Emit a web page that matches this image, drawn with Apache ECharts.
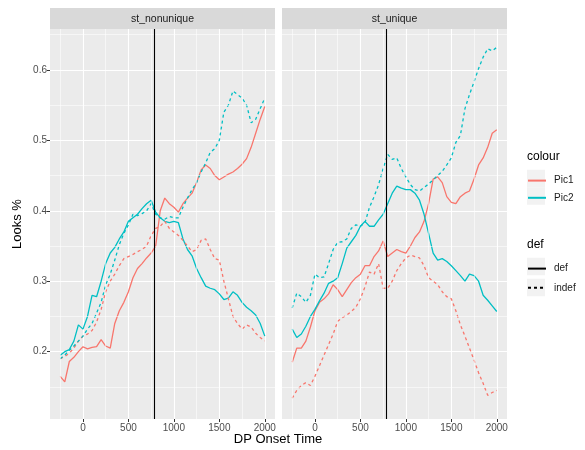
<!DOCTYPE html>
<html><head><meta charset="utf-8">
<script src="https://cdn.jsdelivr.net/npm/echarts@6/dist/echarts.min.js"></script>
<style>html,body{margin:0;padding:0;background:#fff}#c{width:585px;height:450px}</style>
</head><body><div id="c"></div>
<script>
const panels = ['st_nonunique', 'st_unique'];
const times = [-250,-200,-150,-100,-50,0,50,100,150,200,250,300,350,400,450,500,550,600,650,700,750,800,850,900,950,1000,1050,1100,1150,1200,1250,1300,1350,1400,1450,1500,1550,1600,1650,1700,1750,1800,1850,1900,1950,2000];
const xTicks = [0, 500, 1000, 1500, 2000];
const xMinor = [-250, 250, 750, 1250, 1750];
const yTicks = [0.2, 0.3, 0.4, 0.5, 0.6];
const yMinor = [0.15, 0.25, 0.35, 0.45, 0.55, 0.65];
const onsetLine = 780;

const nonunique_Pic1_def = [0.165,0.157,0.186,0.192,0.2,0.207,0.204,0.206,0.207,0.217,0.208,0.205,0.24,0.258,0.27,0.285,0.305,0.318,0.325,0.333,0.34,0.35,0.40,0.418,0.41,0.405,0.398,0.41,0.418,0.425,0.44,0.458,0.465,0.46,0.45,0.444,0.448,0.452,0.455,0.46,0.466,0.474,0.49,0.51,0.53,0.548];
const nonunique_Pic2_def = [0.195,0.2,0.203,0.215,0.238,0.232,0.25,0.28,0.278,0.3,0.325,0.34,0.348,0.36,0.37,0.385,0.39,0.395,0.403,0.41,0.415,0.398,0.39,0.385,0.383,0.385,0.383,0.36,0.345,0.336,0.318,0.305,0.293,0.29,0.288,0.282,0.274,0.276,0.285,0.28,0.27,0.263,0.258,0.252,0.24,0.222];
const nonunique_Pic1_indef = [0.19,0.193,0.198,0.205,0.215,0.222,0.225,0.23,0.242,0.26,0.285,0.3,0.31,0.322,0.332,0.335,0.338,0.342,0.345,0.35,0.365,0.375,0.378,0.385,0.375,0.37,0.365,0.358,0.35,0.342,0.345,0.358,0.36,0.345,0.332,0.33,0.3,0.275,0.25,0.24,0.232,0.238,0.235,0.226,0.22,0.215];
const nonunique_Pic2_indef = [0.19,0.195,0.202,0.208,0.215,0.222,0.232,0.24,0.255,0.27,0.295,0.31,0.33,0.352,0.368,0.38,0.395,0.393,0.396,0.4,0.41,0.395,0.39,0.388,0.392,0.39,0.39,0.405,0.418,0.43,0.44,0.455,0.468,0.483,0.488,0.5,0.54,0.55,0.57,0.565,0.56,0.55,0.525,0.53,0.545,0.56];
const unique_Pic1_def = [0.185,0.205,0.205,0.215,0.235,0.258,0.27,0.275,0.282,0.295,0.288,0.278,0.288,0.298,0.305,0.31,0.322,0.322,0.335,0.343,0.357,0.335,0.34,0.345,0.342,0.34,0.35,0.362,0.37,0.385,0.41,0.445,0.448,0.44,0.42,0.412,0.41,0.42,0.425,0.428,0.445,0.465,0.475,0.49,0.51,0.515];
const unique_Pic2_def = [0.232,0.22,0.225,0.236,0.25,0.26,0.272,0.283,0.297,0.3,0.305,0.325,0.347,0.356,0.365,0.378,0.385,0.378,0.378,0.387,0.395,0.41,0.425,0.435,0.432,0.43,0.43,0.425,0.415,0.395,0.368,0.34,0.33,0.332,0.328,0.322,0.315,0.308,0.3,0.31,0.308,0.3,0.28,0.273,0.265,0.257];
const unique_Pic1_indef = [0.134,0.145,0.152,0.156,0.152,0.165,0.18,0.195,0.21,0.225,0.243,0.248,0.252,0.257,0.263,0.275,0.292,0.313,0.31,0.325,0.29,0.29,0.3,0.315,0.325,0.333,0.337,0.335,0.333,0.322,0.305,0.3,0.295,0.285,0.278,0.275,0.258,0.238,0.222,0.205,0.188,0.17,0.155,0.138,0.142,0.145];
const unique_Pic2_indef = [0.262,0.283,0.278,0.27,0.28,0.31,0.305,0.306,0.325,0.345,0.355,0.356,0.36,0.375,0.38,0.378,0.383,0.405,0.42,0.437,0.46,0.48,0.473,0.475,0.46,0.448,0.437,0.43,0.428,0.433,0.438,0.444,0.45,0.456,0.465,0.475,0.497,0.507,0.545,0.565,0.583,0.602,0.618,0.63,0.627,0.632];

const COL = { Pic1: '#F8766D', Pic2: '#00BFC4' };
const DASH = [3, 3];
const LW = 1.3;
const FONT = 'Liberation Sans, Arial, Helvetica, sans-serif';
const X_MIN = -362.5, X_MAX = 2112.5, Y_MIN = 0.1044, Y_MAX = 0.658;
const gridLefts = [50, 282], GRID_W = 225, GRID_TOP = 29, GRID_H = 390;

const pairs = ys => times.map((t, i) => [t, ys[i]]);

const panelData = [
  { Pic1_def: nonunique_Pic1_def, Pic2_def: nonunique_Pic2_def, Pic1_indef: nonunique_Pic1_indef, Pic2_indef: nonunique_Pic2_indef },
  { Pic1_def: unique_Pic1_def, Pic2_def: unique_Pic2_def, Pic1_indef: unique_Pic1_indef, Pic2_indef: unique_Pic2_indef }
];

const grids = [], xAxes = [], yAxes = [], series = [];
panels.forEach((p, i) => {
  grids.push({ left: gridLefts[i], top: GRID_TOP, width: GRID_W, height: GRID_H, show: true, backgroundColor: '#ebebeb', borderWidth: 0 });
  xAxes.push({ type: 'value', gridIndex: i, min: X_MIN, max: X_MAX, position: 'bottom',
    axisLine: { show: false, onZero: false },
    axisTick: { show: true, customValues: xTicks, length: 3, lineStyle: { color: '#333333', width: 1 } },
    axisLabel: { show: true, customValues: xTicks, color: '#4d4d4d', fontSize: 10, fontFamily: FONT, margin: 4,
      formatter: v => String(v) },
    splitLine: { show: true, lineStyle: { color: '#ffffff', width: 1.1 } } });
  yAxes.push({ type: 'value', gridIndex: i, min: Y_MIN, max: Y_MAX, position: 'left',
    axisLine: { show: false, onZero: false },
    axisTick: { show: i === 0, customValues: yTicks, length: 3, lineStyle: { color: '#333333', width: 1 } },
    axisLabel: { show: i === 0, customValues: yTicks, color: '#4d4d4d', fontSize: 10, fontFamily: FONT, margin: 3,
      formatter: v => v.toFixed(1) },
    splitLine: { show: true, lineStyle: { color: '#ffffff', width: 1.1 } } });

  // minor grid lines (white, thin) drawn under the data
  series.push({ type: 'line', name: '_minor' + i, xAxisIndex: i, yAxisIndex: i, data: [], z: 1,
    markLine: { silent: true, symbol: ['none', 'none'], animation: false, label: { show: false },
      lineStyle: { color: '#ffffff', type: 'solid', width: 0.55 },
      emphasis: { disabled: true },
      data: xMinor.map(v => ({ xAxis: v })).concat(yMinor.map(v => ({ yAxis: v }))) } });

  const d = panelData[i];
  const order = [['Pic1', 'def'], ['Pic2', 'def'], ['Pic1', 'indef'], ['Pic2', 'indef']];
  order.forEach(([pic, lt], k) => {
    const s = {
      type: 'line', name: pic, xAxisIndex: i, yAxisIndex: i,
      data: pairs(d[pic + '_' + lt]), symbol: 'none', showSymbol: false,
      color: COL[pic],
      lineStyle: { color: COL[pic], width: LW, type: lt === 'def' ? 'solid' : DASH },
      animation: false, z: 3
    };
    if (k === order.length - 1) {
      s.markLine = { silent: true, symbol: ['none', 'none'], animation: false,
        label: { show: false }, emphasis: { disabled: true },
        lineStyle: { color: '#000000', type: 'solid', width: 1.1 },
        data: [{ xAxis: onsetLine }] };
    }
    series.push(s);
  });
});
series.push({ type: 'line', name: 'def', xAxisIndex: 0, yAxisIndex: 0, data: [], symbol: 'none', color: '#000',
  lineStyle: { color: '#000', width: LW, type: 'solid' } });
series.push({ type: 'line', name: 'indef', xAxisIndex: 0, yAxisIndex: 0, data: [], symbol: 'none', color: '#000',
  lineStyle: { color: '#000', width: LW, type: DASH } });

const graphic = [];
[169.75, 187.25, 257.75, 278.75].forEach(y => graphic.push({ type: 'rect', shape: { x: 527, y: y, width: 18, height: 17.5 }, style: { fill: '#f2f2f2' }, silent: true, z: 1 }));
panels.forEach((p, i) => {
  graphic.push({ type: 'rect', shape: { x: gridLefts[i], y: 8, width: GRID_W, height: 21 }, style: { fill: '#d9d9d9' }, silent: true });
  graphic.push({ type: 'text', x: gridLefts[i] + GRID_W / 2, y: 19, style: { text: p, fill: '#1a1a1a', font: '10.5px ' + FONT, textAlign: 'center', textVerticalAlign: 'middle' }, silent: true });
});
graphic.push({ type: 'text', x: 278, y: 439, style: { text: 'DP Onset Time', fill: '#000', font: '13px ' + FONT, textAlign: 'center', textVerticalAlign: 'middle' } });
graphic.push({ type: 'text', x: 17, y: 224, rotation: Math.PI / 2, style: { text: 'Looks %', fill: '#000', font: '13px ' + FONT, textAlign: 'center', textVerticalAlign: 'middle' } });
graphic.push({ type: 'text', x: 527, y: 157, style: { text: 'colour', fill: '#000', font: '12px ' + FONT, textAlign: 'left', textVerticalAlign: 'middle' } });
graphic.push({ type: 'text', x: 527, y: 245, style: { text: 'def', fill: '#000', font: '12px ' + FONT, textAlign: 'left', textVerticalAlign: 'middle' } });

const legendCommon = { orient: 'vertical', left: 527, itemWidth: 18, itemHeight: 14, selectedMode: false,
  itemStyle: { color: 'rgba(0,0,0,0)', borderColor: 'rgba(0,0,0,0)', borderWidth: 0, opacity: 0 },
  textStyle: { fontSize: 10, color: '#1a1a1a', fontFamily: FONT, padding: [0, 0, 0, 3] }, padding: 0 };

const chart = echarts.init(document.getElementById('c'), null, { renderer: 'canvas' });
chart.setOption({
  animation: false,
  backgroundColor: '#ffffff',
  grid: grids, xAxis: xAxes, yAxis: yAxes, series: series,
  legend: [
    Object.assign({ top: 175, itemGap: 6, data: ['Pic1', 'Pic2'] }, legendCommon),
    Object.assign({ top: 263, itemGap: 8, data: ['def', 'indef'] }, legendCommon)
  ],
  graphic: graphic
});
</script></body></html>
